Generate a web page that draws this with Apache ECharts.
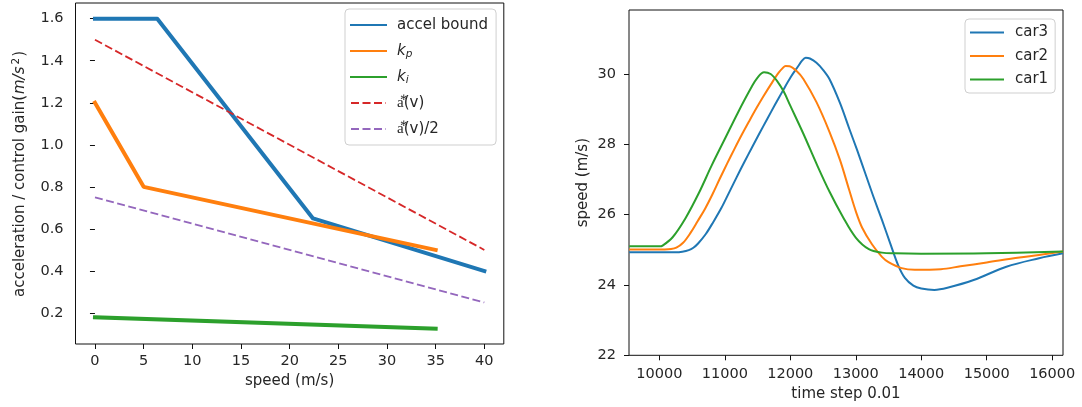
<!DOCTYPE html>
<html>
<head>
<meta charset="utf-8">
<script src="https://cdn.jsdelivr.net/npm/echarts@6/dist/echarts.min.js"></script>
<style>
  html, body { margin: 0; padding: 0; background: #fff; }
  #chart { width: 1082px; height: 407px; }
</style>
</head>
<body>
<div id="chart"></div>
<script>
// ---- left panel: acceleration bound and controller gains vs speed ----
const boundSpeed = [0, 6.4, 22.4, 40];
const accelBound = [1.6, 1.6, 0.65, 0.4];
const kpSpeed = [0, 5, 35];
const kpGain = [1.2, 0.8, 0.5];
const kiSpeed = [0, 35];
const kiGain = [0.18, 0.125];
const refSpeed = [0, 40];
const aStar = [1.5, 0.5];
const aStarHalf = [0.75, 0.25];
const speedTicks = [0, 5, 10, 15, 20, 25, 30, 35, 40];
const accelTicks = [0.2, 0.4, 0.6, 0.8, 1.0, 1.2, 1.4, 1.6];

// ---- right panel: platoon speeds over time ----
const car1Time = [9540, 10000, 10050, 10200, 10400, 10600, 10800, 11000, 11200, 11400, 11500, 11600, 11700, 11800, 11900, 12000, 12200, 12400, 12600, 12800, 13000, 13200, 13400, 13600, 14000, 15000, 16165];
const car1Speed = [25.10, 25.10, 25.12, 25.35, 25.90, 26.60, 27.40, 28.15, 28.90, 29.60, 29.90, 30.05, 30.00, 29.80, 29.50, 29.10, 28.30, 27.45, 26.65, 25.95, 25.35, 25.02, 24.92, 24.90, 24.89, 24.90, 24.95];
const car2Time = [9540, 10080, 10180, 10260, 10363, 10476, 10587, 10699, 10812, 10923, 11035, 11148, 11259, 11373, 11484, 11595, 11709, 11820, 11880, 11930, 11990, 12100, 12200, 12400, 12600, 12760, 12900, 13000, 13100, 13250, 13400, 13500, 13700, 13900, 14300, 14600, 15000, 15500, 15800, 16165];
const car2Speed = [25.01, 25.01, 25.02, 25.06, 25.20, 25.48, 25.82, 26.17, 26.58, 27.02, 27.45, 27.87, 28.27, 28.66, 29.03, 29.38, 29.72, 30.03, 30.16, 30.23, 30.22, 30.08, 29.86, 29.20, 28.35, 27.55, 26.70, 26.10, 25.62, 25.15, 24.80, 24.65, 24.48, 24.43, 24.45, 24.53, 24.64, 24.78, 24.85, 24.95];
const car3Time = [9540, 10250, 10350, 10450, 10520, 10592, 10710, 10827, 10945, 11063, 11180, 11297, 11415, 11532, 11650, 11768, 11885, 12003, 12120, 12180, 12235, 12300, 12400, 12500, 12600, 12760, 12900, 13020, 13150, 13270, 13400, 13525, 13650, 13750, 13880, 14000, 14200, 14400, 14800, 15300, 15800, 16165];
const car3Speed = [24.93, 24.93, 24.945, 24.99, 25.06, 25.18, 25.45, 25.80, 26.18, 26.62, 27.06, 27.49, 27.91, 28.32, 28.73, 29.13, 29.52, 29.90, 30.22, 30.38, 30.46, 30.44, 30.32, 30.12, 29.85, 29.17, 28.45, 27.84, 27.15, 26.51, 25.85, 25.19, 24.55, 24.20, 23.98, 23.90, 23.86, 23.92, 24.14, 24.52, 24.76, 24.90];
const timeTicks = [10000, 11000, 12000, 13000, 14000, 15000, 16000];
const speedAxisTicks = [22, 24, 26, 28, 30];

const C = { blue: '#1f77b4', orange: '#ff7f0e', green: '#2ca02c', red: '#d62728', purple: '#9467bd' };
const FONT = 'DejaVu Sans';
const TXT = '#262626';

const zip = (xs, ys) => xs.map((x, i) => [x, ys[i]]);

function lineSeries(name, xs, ys, color, width, axis, dashed) {
  return {
    type: 'line', name, data: zip(xs, ys),
    xAxisIndex: axis, yAxisIndex: axis,
    symbol: 'none', showSymbol: false, silent: true, animation: false,
    lineStyle: { color, width, type: dashed ? [8, 3.5] : 'solid', cap: dashed ? 'butt' : 'square', join: 'round' },
    itemStyle: { color }
  };
}
function smoothSeries(name, xs, ys, color) {
  const s = lineSeries(name, xs, ys, color, 2, 1, false);
  s.smooth = 0.35; s.lineStyle.cap = 'butt';
  return s;
}

const tickLabel = { fontFamily: FONT, fontSize: 14.5, color: TXT };

const legendNames = {
  'accel bound': 'accel bound',
  'kp': '{i|k}{sub|p}',
  'ki': '{i|k}{sub|i}',
  'astar': 'a\u20F0(v)',
  'astarHalf': 'a\u20F0(v)/2'
};

const option = {
  backgroundColor: '#fff',
  animation: false,
  grid: [
    { left: 75.5, top: 3, width: 428.3, height: 341, show: true, borderColor: '#111', borderWidth: 1, backgroundColor: 'transparent' },
    { left: 629, top: 10, width: 434, height: 345.3, show: true, borderColor: '#111', borderWidth: 1, backgroundColor: 'transparent' }
  ],
  // vertical title of the left panel (rich text with italic units and a superscript)
  graphic: [{
    type: 'text', x: 20, y: 297, rotation: Math.PI / 2, silent: true,
    style: {
      text: '{n|acceleration / control gain(}{i|m/s}{sup|2}{p|)}',
      fontFamily: FONT, fontSize: 15, fill: TXT,
      align: 'left', verticalAlign: 'middle',
      rich: {
        n: { fontFamily: FONT, fontSize: 15, fill: TXT, lineHeight: 18 },
        i: { fontFamily: FONT, fontSize: 15, fontStyle: 'italic', fill: TXT, lineHeight: 18, padding: [0, 1, 0, 1] },
        sup: { fontFamily: FONT, fontSize: 10.5, fill: TXT, verticalAlign: 'top', padding: [0, 1, 0, 1] },
        p: { fontFamily: FONT, fontSize: 15, fill: TXT, lineHeight: 18 }
      }
    }
  }],
  xAxis: [
    {
      type: 'value', gridIndex: 0, min: -2, max: 42,
      splitLine: { show: false }, axisLine: { show: false },
      axisTick: { show: true, length: 5, lineStyle: { color: '#111' }, customValues: speedTicks },
      axisLabel: Object.assign({ margin: 10, customValues: speedTicks, formatter: v => String(v) }, tickLabel),
      name: 'speed (m/s)', nameLocation: 'middle', nameGap: 29,
      nameTextStyle: { fontFamily: FONT, fontSize: 15, color: TXT }
    },
    {
      type: 'value', gridIndex: 1, min: 9537, max: 16165,
      splitLine: { show: false }, axisLine: { show: false },
      axisTick: { show: true, length: 5, lineStyle: { color: '#111' }, customValues: timeTicks },
      axisLabel: Object.assign({ margin: 11, customValues: timeTicks, formatter: v => String(v) }, tickLabel),
      name: 'time step 0.01', nameLocation: 'middle', nameGap: 30,
      nameTextStyle: { fontFamily: FONT, fontSize: 15, color: TXT }
    }
  ],
  yAxis: [
    {
      type: 'value', gridIndex: 0, min: 0.0525, max: 1.6747,
      splitLine: { show: false }, axisLine: { show: false },
      axisTick: { show: true, length: 5, lineStyle: { color: '#111' }, customValues: accelTicks },
      axisLabel: Object.assign({ margin: 12, customValues: accelTicks, formatter: v => v.toFixed(1) }, tickLabel)
    },
    {
      type: 'value', gridIndex: 1, min: 22, max: 31.82,
      splitLine: { show: false }, axisLine: { show: false },
      axisTick: { show: true, length: 5, lineStyle: { color: '#111' }, customValues: speedAxisTicks },
      axisLabel: Object.assign({ margin: 13, customValues: speedAxisTicks, formatter: v => String(v) }, tickLabel),
      name: 'speed (m/s)', nameLocation: 'middle', nameGap: 38,
      nameTextStyle: { fontFamily: FONT, fontSize: 15, color: TXT }
    }
  ],
  legend: [
    {
      data: ['accel bound', 'kp', 'ki', 'astar', 'astarHalf'],
      orient: 'vertical', left: 345, top: 9,
      padding: [7, 8, 7, 5], itemGap: 8, itemWidth: 35, itemHeight: 14,
      itemStyle: { opacity: 0 },
      backgroundColor: 'rgba(255,255,255,0.8)', borderColor: '#cfcfcf', borderWidth: 1, borderRadius: 4,
      selectedMode: false,
      formatter: name => legendNames[name],
      textStyle: {
        fontFamily: FONT, fontSize: 15, color: TXT, lineHeight: 18, padding: [0, 0, 0, 6],
        rich: {
          i: { fontFamily: FONT, fontSize: 15, fontStyle: 'italic', color: TXT, lineHeight: 18 },
          sub: { fontFamily: FONT, fontSize: 10.5, fontStyle: 'italic', color: TXT, verticalAlign: 'bottom' }
        }
      }
    },
    {
      data: ['car3', 'car2', 'car1'],
      orient: 'vertical', left: 965, top: 19,
      padding: [5, 7, 5, 4], itemGap: 6.5, itemWidth: 34, itemHeight: 14,
      itemStyle: { opacity: 0 },
      backgroundColor: 'rgba(255,255,255,0.8)', borderColor: '#cfcfcf', borderWidth: 1, borderRadius: 4,
      selectedMode: false,
      textStyle: { fontFamily: FONT, fontSize: 15, color: TXT, lineHeight: 17, padding: [0, 0, 0, 6] }
    }
  ],
  series: [
    lineSeries('accel bound', boundSpeed, accelBound, C.blue, 4, 0, false),
    lineSeries('kp', kpSpeed, kpGain, C.orange, 4, 0, false),
    lineSeries('ki', kiSpeed, kiGain, C.green, 4, 0, false),
    lineSeries('astar', refSpeed, aStar, C.red, 1.8, 0, true),
    lineSeries('astarHalf', refSpeed, aStarHalf, C.purple, 1.8, 0, true),
    smoothSeries('car3', car3Time, car3Speed, C.blue),
    smoothSeries('car2', car2Time, car2Speed, C.orange),
    smoothSeries('car1', car1Time, car1Speed, C.green)
  ]
};

const chart = echarts.init(document.getElementById('chart'), null, { renderer: 'canvas' });
chart.setOption(option);
</script>
</body>
</html>
